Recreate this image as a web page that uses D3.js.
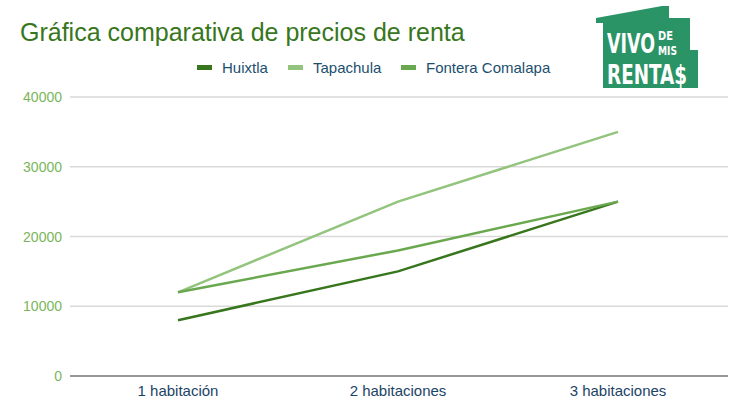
<!DOCTYPE html>
<html><head><meta charset="utf-8">
<script src="https://cdn.jsdelivr.net/npm/d3@7"></script>
<style>body{margin:0;background:#fff}svg{display:block}</style>
</head><body>
<svg id="c" width="746" height="410"></svg>
<script>
const categories = ["1 habitación", "2 habitaciones", "3 habitaciones"];
const seriesNames = ["Huixtla", "Tapachula", "Fontera Comalapa"];
const huixtla = [8000, 15000, 25000];
const tapachula = [12000, 25000, 35000];
const fontera = [12000, 18000, 25000];
const yTicks = [0, 10000, 20000, 30000, 40000];
const colors = ["#38761d", "#93c47d", "#6aa84f"];
const seriesValues = [huixtla, tapachula, fontera];

const svg = d3.select("#c");
const font = "Arial, 'Liberation Sans', sans-serif";

const x = d3.scaleBand().domain(categories).range([68, 728]);
const y = d3.scaleLinear().domain([0, 40000]).range([376, 97]);

// title
svg.append("text").attr("x", 20).attr("y", 41).text("Gráfica comparativa de precios de renta")
  .attr("font-family", font).attr("font-size", 25).attr("fill", "#38761d");

// grid
svg.append("g").selectAll("line").data(yTicks.filter(d => d > 0)).join("line")
  .attr("x1", 70).attr("x2", 728).attr("y1", d => y(d)).attr("y2", d => y(d))
  .attr("stroke", "#d9d9d9").attr("stroke-width", 1.5);

// y labels
svg.append("g").selectAll("text").data(yTicks).join("text")
  .attr("x", 62).attr("y", d => y(d) + 5).attr("text-anchor", "end")
  .attr("font-family", font).attr("font-size", 14).attr("fill", "#7ab55c").text(d => d);

// x axis
svg.append("line").attr("x1", 70).attr("x2", 728).attr("y1", y(0)).attr("y2", y(0))
  .attr("stroke", "#333").attr("stroke-width", 1.2);
svg.append("g").selectAll("text").data(categories).join("text")
  .attr("x", d => x(d) + x.bandwidth() / 2).attr("y", 396).attr("text-anchor", "middle")
  .attr("font-family", font).attr("font-size", 15).attr("fill", "#1c4466").text(d => d);

// lines
const line = d3.line().x((d, i) => x(categories[i]) + x.bandwidth() / 2).y(d => y(d));
svg.append("g").selectAll("path").data(seriesValues).join("path")
  .attr("d", d => line(d)).attr("fill", "none")
  .attr("stroke", (d, i) => colors[i]).attr("stroke-width", 2.5);

// legend
const legX = [197, 288, 401];
const leg = svg.append("g").selectAll("g").data(seriesNames).join("g")
  .attr("transform", (d, i) => `translate(${legX[i]},68)`);
leg.append("rect").attr("x", 0).attr("y", -3).attr("width", 15).attr("height", 5)
  .attr("fill", (d, i) => colors[i]);
leg.append("text").attr("x", 25).attr("y", 5).text(d => d)
  .attr("font-family", font).attr("font-size", 15).attr("fill", "#1c4f6e");

// logo
const logo = svg.append("g");
logo.append("polygon")
  .attr("points", "596,18 662,6 669,6 669,18 690,18 690,50 698,50 698,88 603,88 603,23 596,23")
  .attr("fill", "#2a9466");
const lf = "'DejaVu Sans Condensed', 'DejaVu Sans', sans-serif";
function logoText(str, x0, y0, size, width) {
  const g = logo.append("g");
  const t = g.append("text").attr("x", 0).attr("y", 0).text(str)
    .attr("font-family", lf).attr("font-weight", "bold").attr("font-size", size)
    .attr("fill", "#fff");
  const w = t.node().getComputedTextLength();
  g.attr("transform", `translate(${x0},${y0}) scale(${width / w},1)`);
}
logoText("VIVO", 607, 53, 26, 48);
logoText("DE", 658, 40, 12, 15);
logoText("MIS", 658, 55, 12, 19);
logoText("RENTA$", 607, 84, 26, 80);
</script>
</body></html>
